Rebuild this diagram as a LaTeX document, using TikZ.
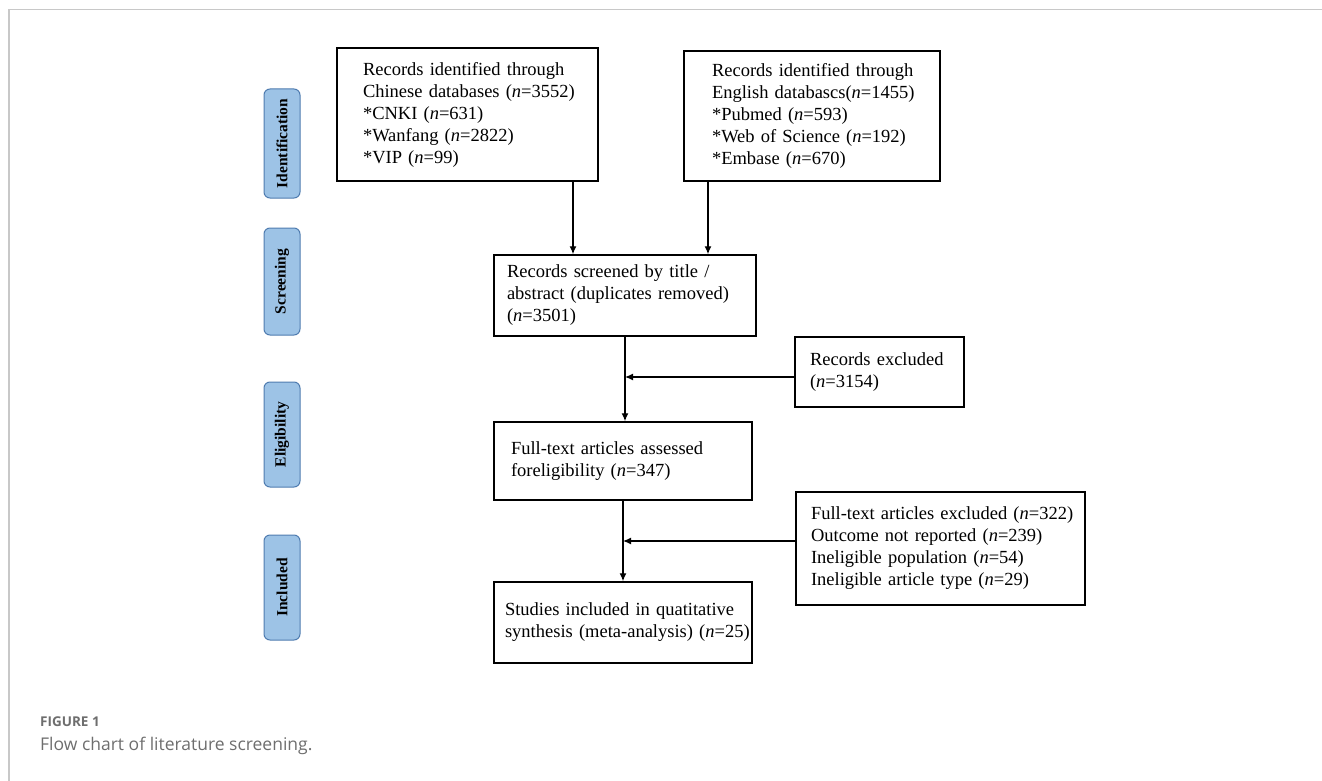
\documentclass[tikz,border=0pt]{standalone}
\usepackage{fontspec}
\setmainfont{Liberation Serif}
\newfontfamily\capfont{Open Sans}
\usetikzlibrary{arrows.meta}
\definecolor{phasefill}{HTML}{9DC3E6}
\definecolor{phasedraw}{HTML}{4F7CB0}
\definecolor{framegray}{HTML}{C8C8C8}
\definecolor{capgray}{HTML}{6E6E6E}
\newcommand{\nn}{\textit{n}}
\newcommand{\rowtxt}[1]{\mbox{#1}}
\begin{document}
\begin{tikzpicture}[x=1pt,y=-1pt,
  fbox/.style={draw=black, line width=1.5pt, rectangle, align=left,
    font=\fontsize{18.5}{22}\selectfont, inner ysep=0pt},
  phase/.style={draw=phasedraw, fill=phasefill, line width=1pt, rounded corners=6pt,
    minimum height=36pt, inner sep=0pt, rotate=90,
    font=\bfseries\fontsize{15.5}{18}\selectfont},
  arr/.style={line width=1.3pt, -{Latex[length=8pt,width=7pt]}},
  capl/.style={anchor=west, inner sep=0pt, text=capgray}]
\useasboundingbox (0,0) rectangle (1322,781);
\draw[framegray, line width=1.2pt] (9,781) -- (9,9.5) -- (1322,9.5);

% phase labels
\node[phase, minimum width=109pt] (pid) at (282,143.5) {Identification};
\node[phase, minimum width=107pt] (psc) at (282,281.5) {Screening};
\node[phase, minimum width=105pt] (pel) at (282,434.5) {Eligibility};
\node[phase, minimum width=105pt] (pin) at (282,587.5) {Included};

% boxes
\node[fbox, minimum width=261pt, minimum height=133pt, inner xsep=26pt, text width=209pt] (chn) at (467.5,114.5)
  {\rowtxt{Records identified through}\\ \rowtxt{Chinese databases (\nn=3552)}\\ \rowtxt{*CNKI (\nn=631)}\\ \rowtxt{*Wanfang (\nn=2822)}\\ \rowtxt{*VIP (\nn=99)}};
\node[fbox, minimum width=256pt, minimum height=130pt, inner xsep=28pt, text width=200pt] (eng) at (812,116)
  {\rowtxt{Records identified through}\\ \rowtxt{English databascs(\nn=1455)}\\ \rowtxt{*Pubmed (\nn=593)}\\ \rowtxt{*Web of Science (\nn=192)}\\ \rowtxt{*Embase (\nn=670)}};
\node[fbox, minimum width=262pt, minimum height=81pt, inner xsep=13pt, text width=236pt] (scr) at (625,295.5)
  {\rowtxt{Records screened by title /}\\ \rowtxt{abstract (duplicates removed)}\\ \rowtxt{(\nn=3501)}};
\node[fbox, minimum width=169pt, minimum height=70pt, inner xsep=15pt, text width=139pt] (exc1) at (879.5,372)
  {\rowtxt{Records excluded}\\ \rowtxt{(\nn=3154)}};
\node[fbox, minimum width=258pt, minimum height=78pt, inner xsep=17pt, text width=224pt] (elig) at (623,461)
  {\rowtxt{Full-text articles assessed}\\ \rowtxt{foreligibility (\nn=347)}};
\node[fbox, minimum width=289pt, minimum height=113pt, inner xsep=15pt, text width=259pt] (exc2) at (940.5,548.5)
  {\rowtxt{Full-text articles excluded (\nn=322)}\\ \rowtxt{Outcome not reported (\nn=239)}\\ \rowtxt{Ineligible population (\nn=54)}\\ \rowtxt{Ineligible article type (\nn=29)}};
\node[fbox, minimum width=258pt, minimum height=81pt, inner xsep=11pt, text width=236pt] (inc) at (623,622.5)
  {\rowtxt{Studies included in quatitative}\\ \rowtxt{synthesis (meta-analysis) (\nn=25)}};

% connectors
\draw[arr] ([xshift=105.5pt]chn.south) -- ([xshift=105.5pt]chn.south |- scr.north);
\draw[arr] ([xshift=-104pt]eng.south) -- ([xshift=-104pt]eng.south |- scr.north);
\draw[arr] (scr.south) -- (scr.south |- elig.north);
\draw[arr] ([yshift=-5pt]exc1.west) -- ([yshift=-5pt]exc1.west -| scr.south);
\draw[arr] (elig.south) -- (inc.north);
\draw[arr] ([yshift=7.5pt]exc2.west) -- ([yshift=7.5pt]exc2.west -| elig.south);

% caption
\node[capl, font=\capfont\bfseries\fontsize{13.5}{16}\selectfont] (figlbl) at (40,722) {FIGURE 1};
\node[capl, font=\capfont\fontsize{17.5}{21}\selectfont] (figcap) at (40,746) {Flow chart of literature screening.};
\end{tikzpicture}
\end{document}
